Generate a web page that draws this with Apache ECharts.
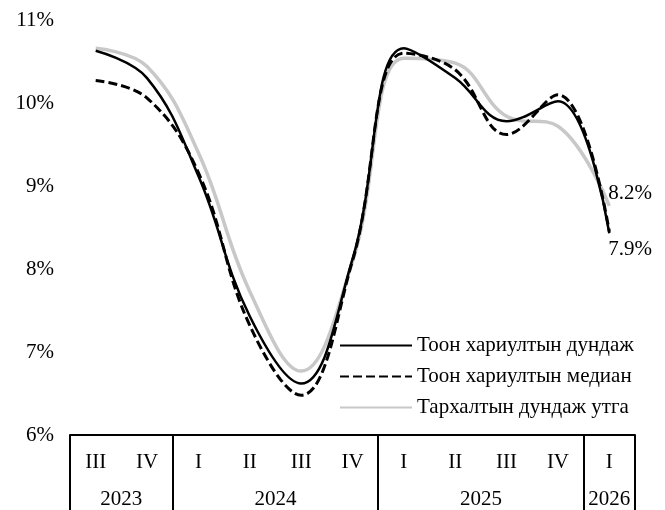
<!DOCTYPE html>
<html>
<head>
<meta charset="utf-8">
<script src="https://cdn.jsdelivr.net/npm/echarts@6/dist/echarts.min.js"></script>
<style>
  html, body { margin: 0; padding: 0; background: #fff; }
  #chart { width: 665px; height: 510px; }
</style>
</head>
<body>
<div id="chart"></div>
<script>
const quarters = ['III', 'IV', 'I', 'II', 'III', 'IV', 'I', 'II', 'III', 'IV', 'I']
const years = ['2023', '2024', '2025', '2026']
const yearSpans = [2, 4, 4, 1]

const meanValues = [10.63, 10.30, 9.12, 7.43, 6.62, 8.12, 10.66, 10.30, 9.78, 10.02, 8.43]
const medianValues = [10.27, 10.06, 9.16, 7.32, 6.48, 8.10, 10.60, 10.40, 9.62, 10.10, 8.45]
const distValues = [10.66, 10.44, 9.40, 7.73, 6.77, 8.09, 10.54, 10.48, 9.84, 9.72, 8.76]

const seriesNames = ['Тоон хариултын дундаж', 'Тоон хариултын медиан', 'Тархалтын дундаж утга']
const endLabels = ['7.9%', '', '8.2%']

const font = 'Liberation Serif, Times New Roman, serif'

// year boundaries (first quarter index of each year) and year label slots on a half-step axis
const boundaries = []
const yearSlots = new Array(quarters.length * 2 + 1).fill('')
let start = 0
years.forEach((y, i) => {
  boundaries.push(start)
  yearSlots[start * 2 + yearSpans[i]] = y
  start += yearSpans[i]
})

const chart = echarts.init(document.getElementById('chart'))

const lineSeries = (name, data, style, z, endLabel) => ({
  name: name,
  type: 'line',
  data: data,
  smooth: 0.4,
  showSymbol: false,
  symbol: 'none',
  z: z,
  lineStyle: style,
  itemStyle: {color: style.color},
  endLabel: {
    show: !!endLabel,
    formatter: () => endLabel,
    color: '#000',
    fontSize: 21,
    fontFamily: font,
    offset: endLabel === '8.2%' ? [-9, -12] : [-9, 16]
  }
})

chart.setOption({
  animation: false,
  grid: {left: 70, right: 30, top: 20, bottom: 73},
  legend: {
    orient: 'vertical',
    left: 334,
    top: 330,
    itemWidth: 72,
    itemHeight: 14,
    itemGap: 10,
    itemStyle: {opacity: 0},
    textStyle: {color: '#000', fontSize: 21, fontFamily: font},
    data: seriesNames
  },
  xAxis: [
    {
      type: 'category',
      position: 'bottom',
      data: quarters,
      boundaryGap: true,
      axisLine: {lineStyle: {color: '#000', width: 2}},
      axisTick: {
        show: true,
        length: 80,
        interval: (index) => boundaries.indexOf(index) >= 0,
        lineStyle: {color: '#000', width: 2}
      },
      axisLabel: {interval: 0, margin: 17, color: '#000', fontSize: 21, fontFamily: font}
    },
    {
      type: 'category',
      position: 'bottom',
      data: yearSlots,
      boundaryGap: false,
      axisLine: {show: false},
      axisTick: {show: false},
      axisLabel: {interval: 0, margin: 54, color: '#000', fontSize: 21, fontFamily: font}
    }
  ],
  yAxis: {
    type: 'value',
    min: 6,
    max: 11,
    interval: 1,
    axisLine: {show: false},
    axisTick: {show: false},
    splitLine: {show: false},
    axisLabel: {formatter: '{value}%', margin: 16, color: '#000', fontSize: 21, fontFamily: font}
  },
  series: [
    lineSeries(seriesNames[0], meanValues, {color: '#000', width: 2.5}, 3, endLabels[0]),
    lineSeries(seriesNames[1], medianValues, {color: '#000', width: 3, type: [9, 4]}, 2, endLabels[1]),
    lineSeries(seriesNames[2], distValues, {color: '#c8c8c8', width: 3.5}, 1, endLabels[2])
  ]
})
</script>
</body>
</html>
